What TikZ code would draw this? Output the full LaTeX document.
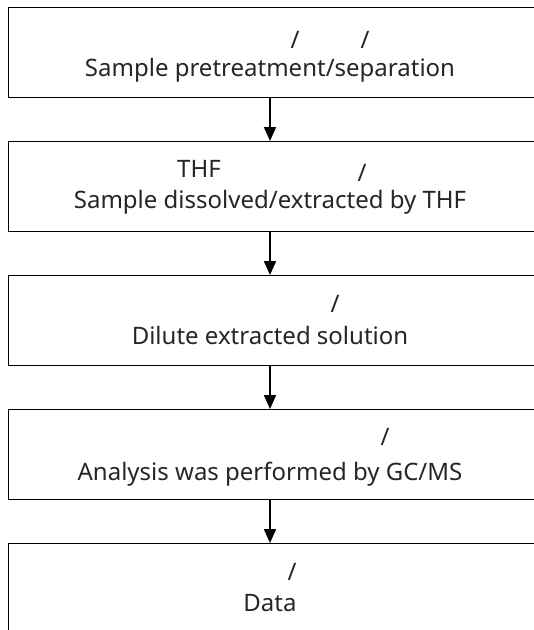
\documentclass[tikz,border=0pt]{standalone}
\usepackage{fontspec}
\setmainfont{Noto Sans}
\usetikzlibrary{arrows.meta}
\begin{document}
\begin{tikzpicture}[x=1pt,y=-1pt,
  box/.style={draw, line width=1.4pt, minimum width=537pt, minimum height=90pt, anchor=north west, inner sep=0pt},
  lbl/.style={font=\fontsize{24}{28}\selectfont, text=black!85, inner sep=0pt, anchor=base},
  arr/.style={line width=2pt, -{Triangle[width=12pt,length=14pt]}}]
\useasboundingbox[fill=white] (0,0) rectangle (534,630);
\node[box] (b1) at (8,7) {};
\node[box] (b2) at (8,141) {};
\node[box] (b3) at (8,275) {};
\node[box] (b4) at (8,409) {};
\node[box] (b5) at (8,543) {};
% box 1
\node[lbl] (t1a) at (295,48) {/};
\node[lbl] (t1b) at (365,48) {/};
\node[lbl] (t1c) at (270,76) {Sample pretreatment/separation};
% box 2
\node[lbl] (t2a) at (199,177) {THF};
\node[lbl] (t2b) at (362,181) {/};
\node[lbl] (t2c) at (270,208) {Sample dissolved/extracted by THF};
% box 3
\node[lbl] (t3a) at (335,312) {/};
\node[lbl] (t3c) at (270,344) {Dilute extracted solution};
% box 4
\node[lbl] (t4a) at (385,445) {/};
\node[lbl] (t4c) at (270,480) {Analysis was performed by GC/MS};
% box 5
\node[lbl] (t5a) at (292,580) {/};
\node[lbl] (t5c) at (270,611) {Data};
% arrows
\coordinate (a1) at (270,97);
\draw[arr] (b1.south -| a1) -- (b2.north -| a1);
\draw[arr] (b2.south -| a1) -- (b3.north -| a1);
\draw[arr] (b3.south -| a1) -- (b4.north -| a1);
\draw[arr] (b4.south -| a1) -- (b5.north -| a1);
\end{tikzpicture}
\end{document}
